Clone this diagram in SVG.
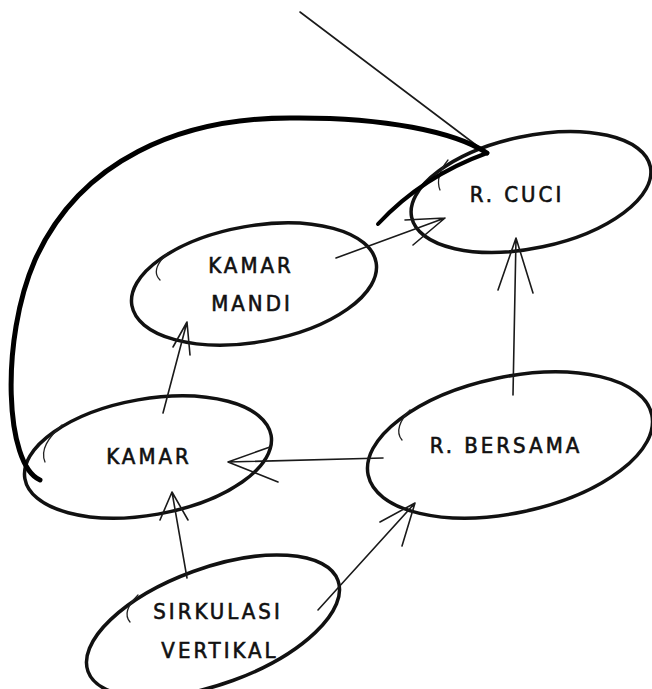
<svg xmlns="http://www.w3.org/2000/svg" width="652" height="689" viewBox="0 0 652 689">
<style>
.node{fill:none;stroke:#111;stroke-width:3.5;stroke-linecap:round}
.sk{fill:none;stroke:#222;stroke-width:1.3;stroke-linecap:round}
.edge{fill:none;stroke:#1a1a1a;stroke-width:1.6;stroke-linecap:round;stroke-linejoin:round}
.thick{fill:none;stroke:#000;stroke-width:5;stroke-linecap:round}
text{font-family:"DejaVu Sans Condensed","Liberation Sans",sans-serif;font-size:22px;fill:#111;stroke:#111;stroke-width:0.6;text-anchor:middle;letter-spacing:3px}
</style>
<rect width="652" height="689" fill="#fff"/>
<g id="r-cuci">
<ellipse class="node" cx="531" cy="192" rx="122" ry="56" transform="rotate(-12 531 192)"/>
<path class="sk" d="M448 160 C440 170 436 180 440 190"/>
<text x="517" y="202">R. CUCI</text>
</g>
<g id="kamar-mandi">
<ellipse class="node" cx="254" cy="284" rx="124" ry="58" transform="rotate(-10 254 284)"/>
<path class="sk" d="M168 253 C158 262 152 272 160 280"/>
<text x="251" y="273">KAMAR</text>
<text x="252" y="311">MANDI</text>
</g>
<g id="kamar">
<ellipse class="node" cx="148" cy="457" rx="125" ry="58" transform="rotate(-10 148 457)"/>
<path class="sk" d="M62 425 C48 438 40 450 45 462"/>
<text x="149" y="464">KAMAR</text>
</g>
<g id="r-bersama">
<ellipse class="node" cx="510" cy="445" rx="145" ry="68" transform="rotate(-12 510 445)"/>
<path class="sk" d="M410 410 C400 420 395 432 402 440"/>
<text x="506" y="453">R. BERSAMA</text>
</g>
<g id="sirkulasi-vertikal">
<ellipse class="node" cx="213" cy="626" rx="133" ry="58" transform="rotate(-20 213 626)"/>
<path class="sk" d="M138 595 C128 605 124 615 130 622"/>
<text x="218" y="619">SIRKULASI</text>
<text x="220" y="658">VERTIKAL</text>
</g>
<g id="connectors">
<path class="edge" d="M300 12 L488 154"/>
<path class="thick" d="M40 480 C5 465 0 340 35 260 C80 160 180 118 290 118 C385 117 455 132 487 153"/>
<path class="thick" d="M487 153 C440 170 405 195 378 224" style="stroke-width:4"/>
<path class="edge" d="M336 258 L445 218 M405 220 L445 218 L413 245"/>
<path class="edge" d="M513 395 L516 238 M498 290 L516 238 L533 293"/>
<path class="edge" d="M163 413 L187 322 M173 347 L187 322 L190 355"/>
<path class="edge" d="M383 458 L228 462 M270 447 L228 462 L278 482"/>
<path class="edge" d="M187 578 L172 492 M160 520 L172 492 L188 520"/>
<path class="edge" d="M318 610 L415 503 M380 522 L415 503 L402 546"/>
</g>
</svg>
